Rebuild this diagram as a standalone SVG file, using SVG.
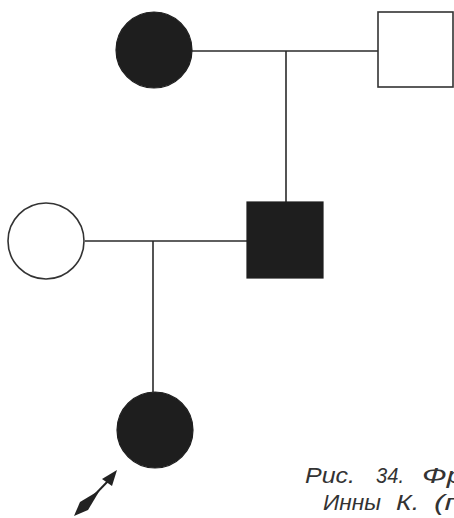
<svg xmlns="http://www.w3.org/2000/svg" width="454" height="518" viewBox="0 0 454 518">
<style>
.ln{stroke:#2a2a2a;stroke-width:1.6;fill:none}
.aff{fill:#1e1e1e;stroke:#1e1e1e;stroke-width:1.2}
.un{fill:#fff;stroke:#333;stroke-width:1.6}
.cap{font-family:"Liberation Sans",Arial,sans-serif;font-style:italic;font-size:22px;fill:#333}
</style>
<rect width="454" height="518" fill="#fff"/>
<g id="connectors">
<line class="ln" x1="192" y1="51" x2="378" y2="51"/>
<line class="ln" x1="286" y1="51" x2="286" y2="202"/>
<line class="ln" x1="85" y1="241" x2="247" y2="241"/>
<line class="ln" x1="153" y1="241" x2="153" y2="392"/>
</g>
<g id="grandmother"><circle class="aff" cx="154" cy="50" r="38"/></g>
<g id="grandfather"><rect class="un" x="378" y="12" width="75" height="75"/></g>
<g id="mother"><circle class="un" cx="46" cy="241" r="38"/></g>
<g id="father"><rect class="aff" x="247" y="202" width="76" height="76"/></g>
<g id="proband"><circle class="aff" cx="155" cy="430" r="38"/></g>
<g id="arrow" fill="#222">
<line x1="78" y1="512" x2="110" y2="479" stroke="#222" stroke-width="2"/>
<polygon points="117,470 102,479 112,486"/>
<polygon points="100,490 80,502 74,516 88,510"/>
</g>
<g id="caption">
<text class="cap" x="305" y="483" textLength="50" lengthAdjust="spacingAndGlyphs">Рис.</text>
<text class="cap" x="376" y="483" textLength="28" lengthAdjust="spacingAndGlyphs">34.</text>
<text class="cap" x="422" y="483" textLength="42" lengthAdjust="spacingAndGlyphs">Фр</text>
<text class="cap" x="323" y="510" textLength="58" lengthAdjust="spacingAndGlyphs">Инны</text>
<text class="cap" x="396" y="510" textLength="23" lengthAdjust="spacingAndGlyphs">К.</text>
<text class="cap" x="434" y="510" textLength="28" lengthAdjust="spacingAndGlyphs">(п</text>
</g>
</svg>
